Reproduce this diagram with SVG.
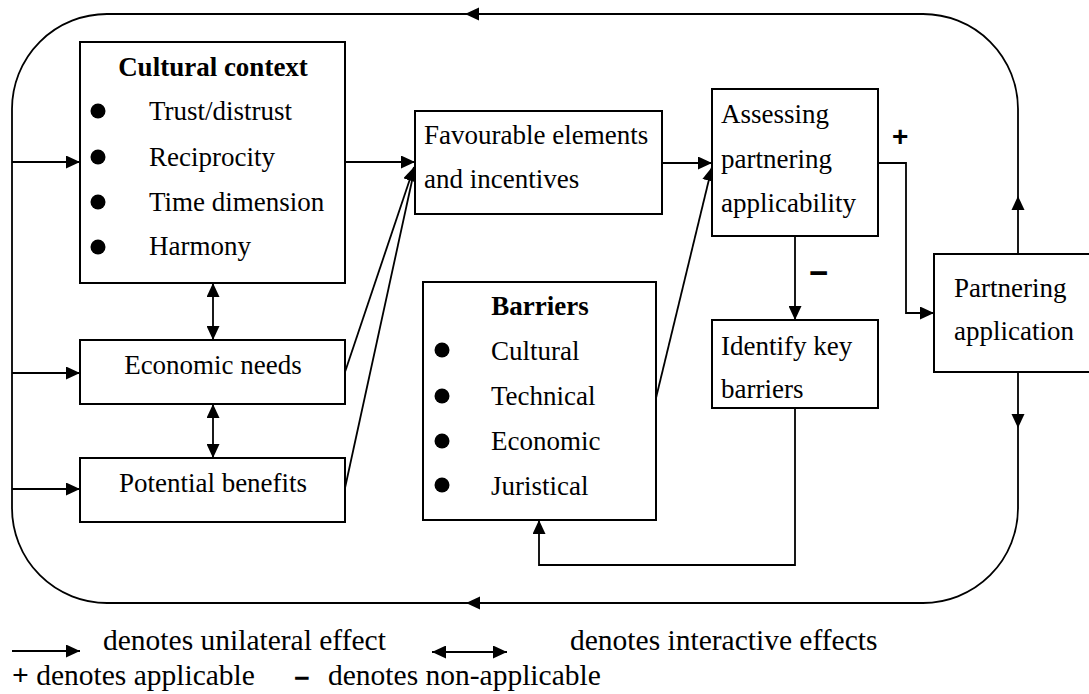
<svg xmlns="http://www.w3.org/2000/svg" width="1089" height="694" viewBox="0 0 1089 694">
<style>
.box{fill:#fff;stroke:#000;stroke-width:2}
.ln{fill:none;stroke:#000;stroke-width:1.8}
.t{font-family:'Liberation Serif','Times New Roman',Times,Tinos,'DejaVu Serif',serif;font-size:27px;fill:#000}
.b{font-weight:bold}
.lg{font-family:'Liberation Serif','Times New Roman',Times,Tinos,'DejaVu Serif',serif;font-size:29.5px;fill:#000}
.sg{font-family:'Liberation Sans',Arial,sans-serif;font-weight:bold;fill:#000}
.ah{fill:#000}
</style>
<defs>
<marker id="arr" markerWidth="15" markerHeight="13" refX="14" refY="6.5" orient="auto-start-reverse" markerUnits="userSpaceOnUse">
<path d="M0,0 L14,6.5 L0,13 z" fill="#000"/>
</marker>
</defs>
<rect width="1089" height="694" fill="#fff"/>

<g id="connectors">
<path class="ln" d="M1018,254 V109 A95,95 0 0 0 923,14 H107 A95,95 0 0 0 12,109 V508 A95,95 0 0 0 107,603 H923 A95,95 0 0 0 1018,508 V372"/>
<polygon class="ah" points="1018,196 1011.5,210 1024.5,210"/>
<polygon class="ah" points="465,14 479,7.5 479,20.5"/>
<polygon class="ah" points="466,603 480,596.5 480,609.5"/>
<polygon class="ah" points="1018,428 1011.5,414 1024.5,414"/>
<path class="ln" d="M12,162 H80" marker-end="url(#arr)"/>
<path class="ln" d="M12,373 H80" marker-end="url(#arr)"/>
<path class="ln" d="M12,489 H80" marker-end="url(#arr)"/>
<path class="ln" d="M213,283 V340" marker-start="url(#arr)" marker-end="url(#arr)"/>
<path class="ln" d="M213,404 V458" marker-start="url(#arr)" marker-end="url(#arr)"/>
<path class="ln" d="M345,162 H415" marker-end="url(#arr)"/>
<path class="ln" d="M345,372 L414,167" marker-end="url(#arr)"/>
<path class="ln" d="M345,488 L415,167" marker-end="url(#arr)"/>
<path class="ln" d="M662,163 H712" marker-end="url(#arr)"/>
<path class="ln" d="M656,398 L712,167" marker-end="url(#arr)"/>
<path class="ln" d="M878,163 H906 V313 H934" marker-end="url(#arr)"/>
<path class="ln" d="M795,236 V320" marker-end="url(#arr)"/>
<path class="ln" d="M795,408 V565 H539 V520" marker-end="url(#arr)"/>
<text class="sg" x="892" y="146" font-size="28">+</text>
<text class="sg" x="809" y="284" font-size="33">−</text>
</g>

<g id="cultural-context">
<rect class="box" x="80" y="42" width="265" height="241"/>
<text class="t b" x="213" y="76" text-anchor="middle">Cultural context</text>
<circle cx="98" cy="111" r="7.5"/><text class="t" x="149" y="120">Trust/distrust</text>
<circle cx="98" cy="157" r="7.5"/><text class="t" x="149" y="166">Reciprocity</text>
<circle cx="98" cy="202" r="7.5"/><text class="t" x="149" y="211">Time dimension</text>
<circle cx="98" cy="247" r="7.5"/><text class="t" x="149" y="255">Harmony</text>
</g>

<g id="economic-needs">
<rect class="box" x="80" y="340" width="265" height="64"/>
<text class="t" x="213" y="374" text-anchor="middle">Economic needs</text>
</g>

<g id="potential-benefits">
<rect class="box" x="80" y="458" width="265" height="64"/>
<text class="t" x="213" y="492" text-anchor="middle">Potential benefits</text>
</g>

<g id="favourable">
<rect class="box" x="415" y="111" width="247" height="103"/>
<text class="t" x="424" y="144">Favourable elements</text>
<text class="t" x="424" y="188">and incentives</text>
</g>

<g id="assessing">
<rect class="box" x="712" y="89" width="166" height="147"/>
<text class="t" x="721" y="123">Assessing</text>
<text class="t" x="721" y="168">partnering</text>
<text class="t" x="721" y="212">applicability</text>
</g>

<g id="barriers">
<rect class="box" x="423" y="282" width="233" height="238"/>
<text class="t b" x="540" y="315" text-anchor="middle">Barriers</text>
<circle cx="442" cy="350" r="7.5"/><text class="t" x="491" y="360">Cultural</text>
<circle cx="442" cy="396" r="7.5"/><text class="t" x="491" y="405">Technical</text>
<circle cx="442" cy="441" r="7.5"/><text class="t" x="491" y="450">Economic</text>
<circle cx="442" cy="485" r="7.5"/><text class="t" x="491" y="495">Juristical</text>
</g>

<g id="identify">
<rect class="box" x="712" y="320" width="166" height="88"/>
<text class="t" x="721" y="355">Identify key</text>
<text class="t" x="721" y="398">barriers</text>
</g>

<g id="partnering-application">
<rect class="box" x="934" y="254" width="160" height="118"/>
<text class="t" x="954" y="297">Partnering</text>
<text class="t" x="954" y="340">application</text>
</g>

<g id="legend">
<path class="ln" d="M12,651 H80" marker-end="url(#arr)"/>
<text class="lg" x="103" y="650">denotes unilateral effect</text>
<path class="ln" d="M432,652 H507" marker-start="url(#arr)" marker-end="url(#arr)"/>
<text class="lg" x="570" y="650">denotes interactive effects</text>
<text class="lg" x="12" y="685"><tspan font-weight="bold">+</tspan> denotes applicable</text>
<text class="sg" x="294" y="687" font-size="27">−</text>
<text class="lg" x="328" y="685">denotes non-applicable</text>
</g>
</svg>
